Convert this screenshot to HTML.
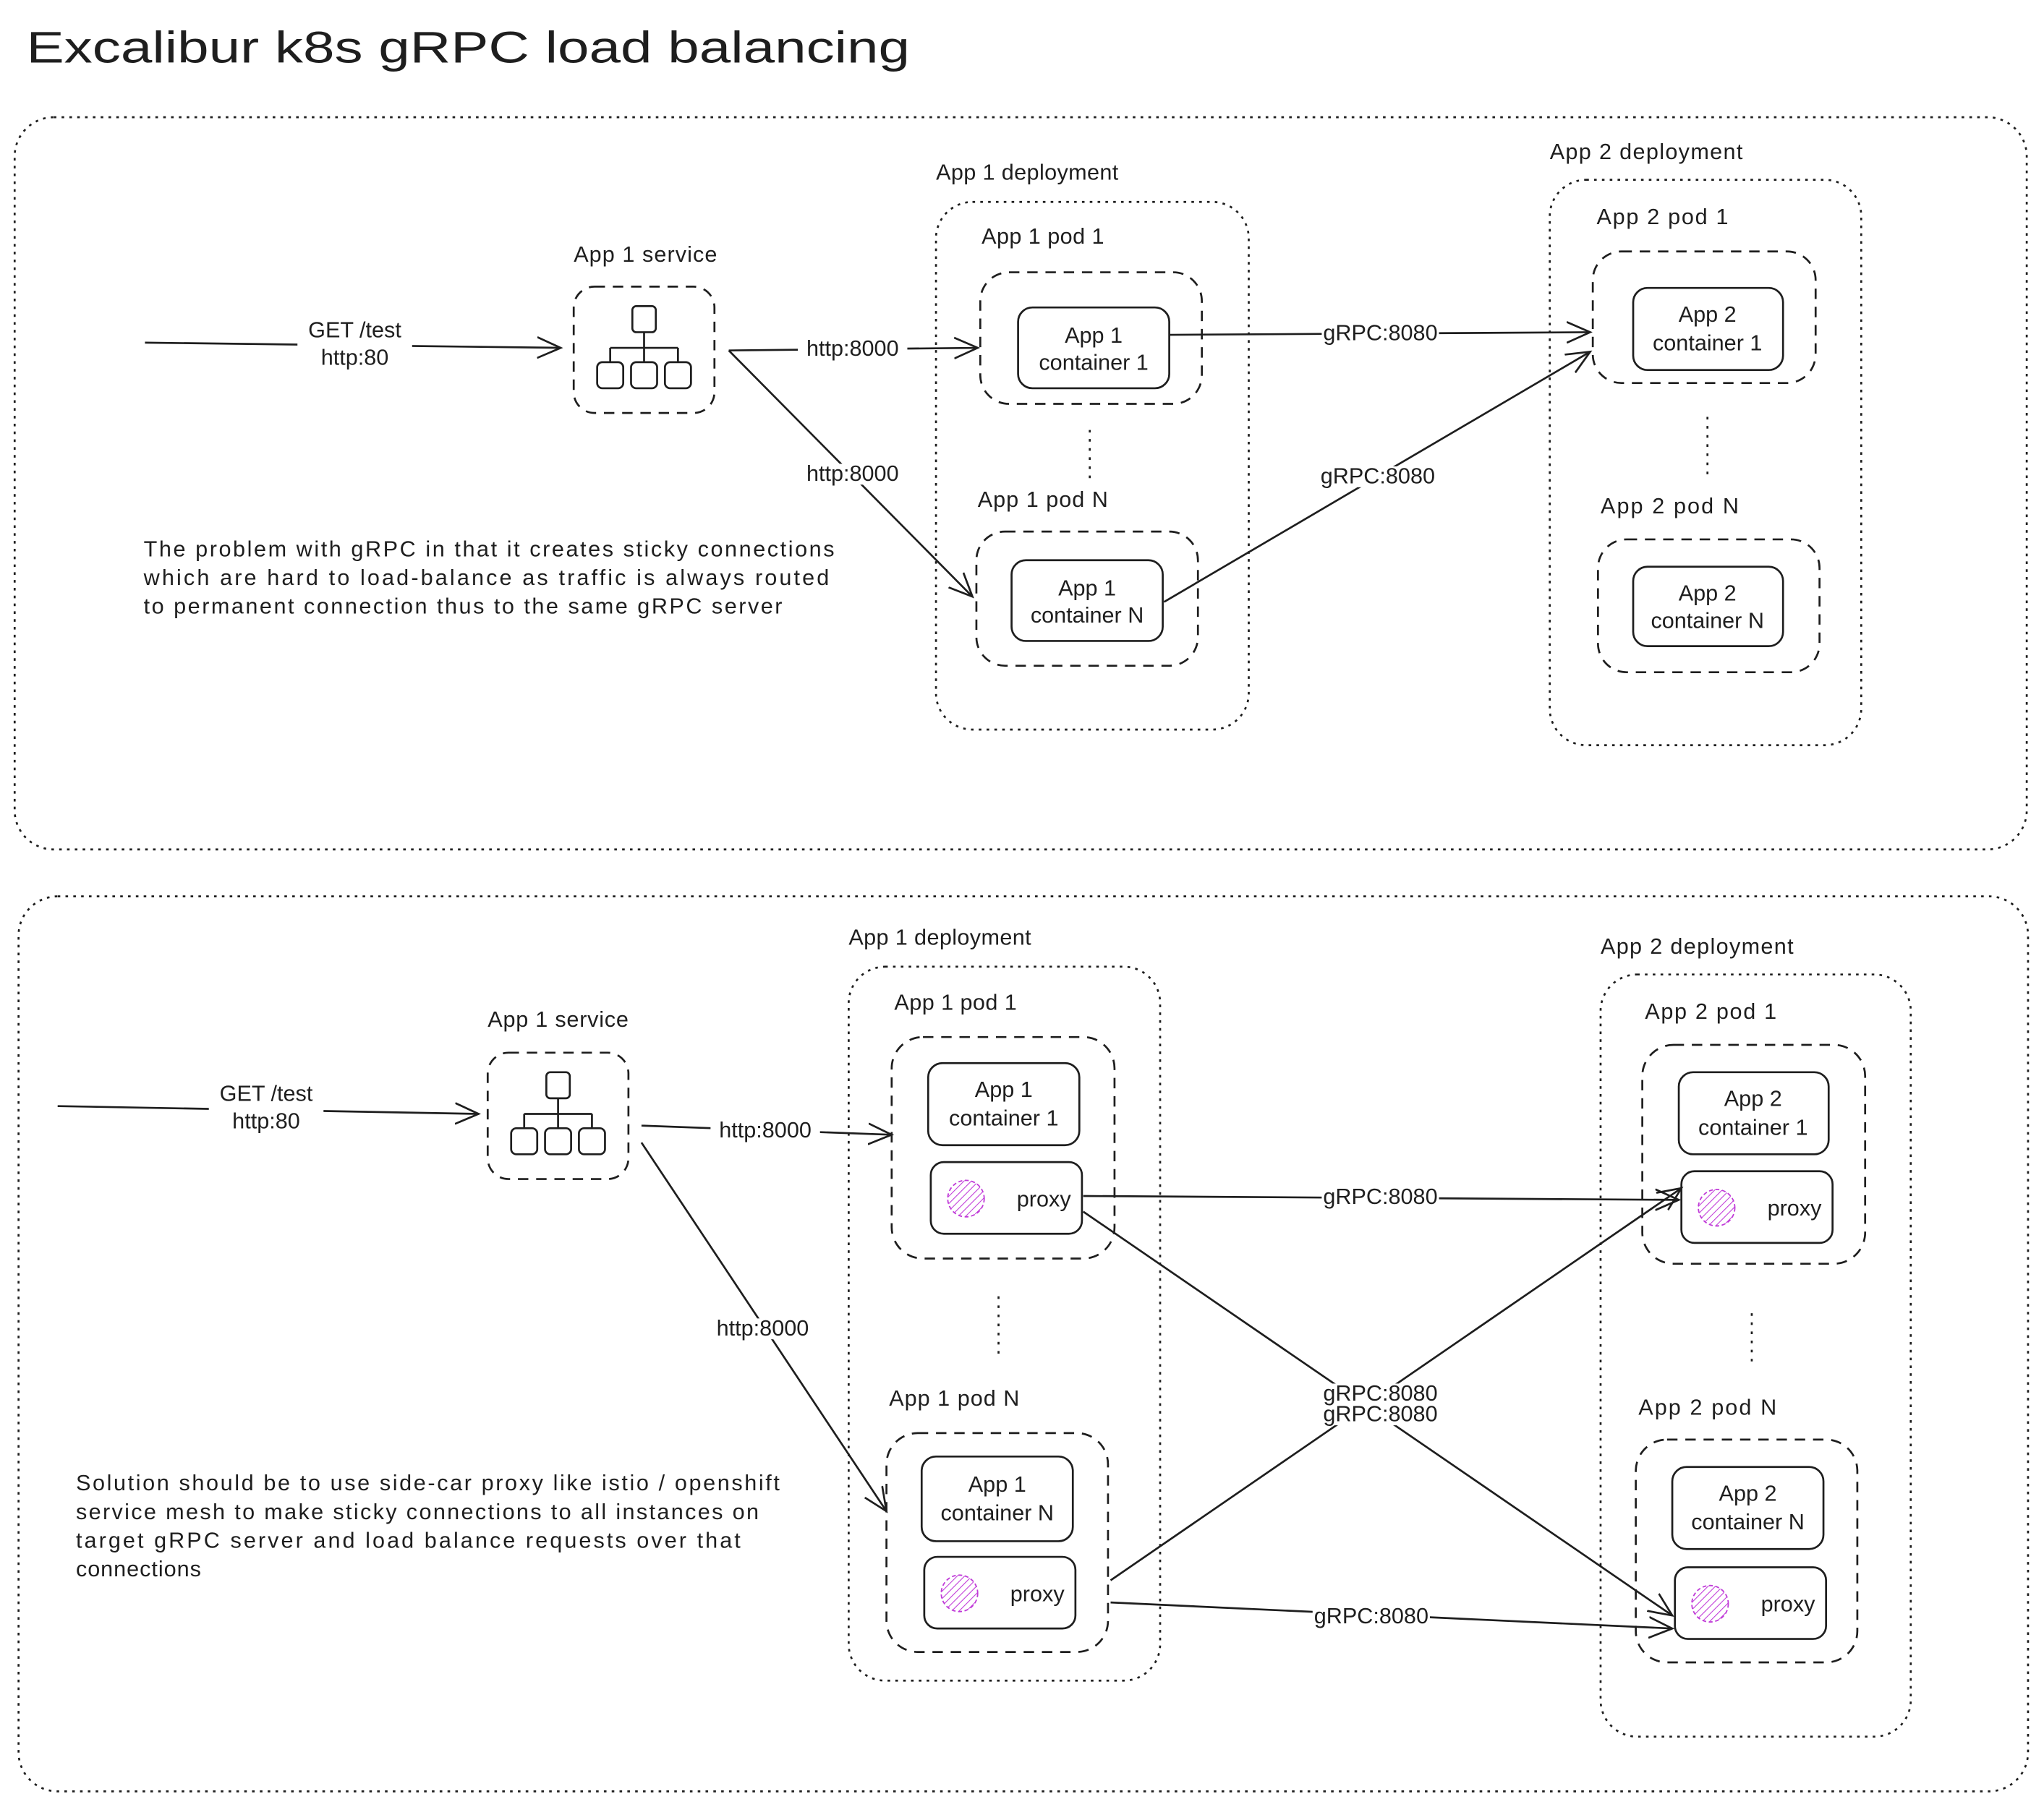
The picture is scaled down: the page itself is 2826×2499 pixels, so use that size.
<!DOCTYPE html>
<html><head><meta charset="utf-8"><style>
html,body{margin:0;padding:0;background:#fff;}
svg{display:block;}
text{font-family:"Liberation Sans",sans-serif;fill:#1e1e1e;}
</style></head><body>
<svg width="2826" height="2499" viewBox="0 0 1568 1387" xmlns="http://www.w3.org/2000/svg">
<defs>
<marker id="a" viewBox="0 0 20 20" refX="18" refY="10" markerWidth="20" markerHeight="20" markerUnits="userSpaceOnUse" orient="auto">
<path d="M0,2 L18,10 L0,18" fill="none" stroke="#1e1e1e" stroke-width="1.5"/>
</marker>
<pattern id="h" width="4" height="4" patternUnits="userSpaceOnUse" patternTransform="rotate(45)">
<line x1="0" y1="0" x2="0" y2="4" stroke="#c03ad8" stroke-width="1.2"/>
</pattern>
<g id="svc">
<rect x="0" y="0" width="108" height="97" rx="16" fill="none" stroke="#1e1e1e" stroke-width="1.5" stroke-dasharray="8 6"/>
<rect x="45" y="15" width="18" height="20" rx="3" fill="none" stroke="#1e1e1e" stroke-width="1.5"/>
<path d="M54,35 V47 M28,47 H80 M28,47 V58 M54,47 V58 M80,47 V58" stroke="#1e1e1e" stroke-width="1.5" fill="none"/>
<rect x="18" y="58" width="20" height="20" rx="4" fill="none" stroke="#1e1e1e" stroke-width="1.5"/>
<rect x="44" y="58" width="20" height="20" rx="4" fill="none" stroke="#1e1e1e" stroke-width="1.5"/>
<rect x="70" y="58" width="20" height="20" rx="4" fill="none" stroke="#1e1e1e" stroke-width="1.5"/>
</g>
<g id="prx">
<rect x="0" y="0" width="116" height="55" rx="10" fill="none" stroke="#1e1e1e" stroke-width="1.5"/>
<circle cx="27" cy="28" r="14" fill="url(#h)" stroke="#c03ad8" stroke-width="1" stroke-dasharray="3 2"/>
<text x="66" y="34" font-size="17">proxy</text>
</g>
</defs>
<g fill="none" stroke="#1e1e1e" stroke-width="1.5">
<rect x="11" y="90" width="1544" height="562" rx="30" stroke-dasharray="2 4"/>
<rect x="14" y="688" width="1542" height="687" rx="30" stroke-dasharray="2 4"/>
<rect x="718" y="155" width="240" height="405" rx="28" stroke-dasharray="2 4"/>
<rect x="1189" y="138" width="239" height="434" rx="28" stroke-dasharray="2 4"/>
<rect x="752" y="209" width="170" height="101" rx="22" stroke-dasharray="8 6"/>
<rect x="749" y="408" width="170" height="103" rx="22" stroke-dasharray="8 6"/>
<rect x="1222" y="193" width="171" height="101" rx="22" stroke-dasharray="8 6"/>
<rect x="1226" y="414" width="170" height="102" rx="22" stroke-dasharray="8 6"/>
<rect x="781" y="236" width="116" height="62" rx="11"/>
<rect x="776" y="430" width="116" height="62" rx="11"/>
<rect x="1253" y="221" width="115" height="63" rx="11"/>
<rect x="1253" y="435" width="115" height="61" rx="11"/>
<line x1="836" y1="330" x2="836" y2="370" stroke-dasharray="2 5"/>
<line x1="1310" y1="320" x2="1310" y2="365" stroke-dasharray="2 5"/>
<rect x="651" y="742" width="239" height="548" rx="28" stroke-dasharray="2 4"/>
<rect x="1228" y="748" width="238" height="585" rx="28" stroke-dasharray="2 4"/>
<rect x="684" y="796" width="171" height="170" rx="24" stroke-dasharray="8 6"/>
<rect x="680" y="1100" width="170" height="168" rx="24" stroke-dasharray="8 6"/>
<rect x="1260" y="802" width="171" height="168" rx="24" stroke-dasharray="8 6"/>
<rect x="1255" y="1105" width="170" height="171" rx="24" stroke-dasharray="8 6"/>
<rect x="712" y="816" width="116" height="63" rx="11"/>
<rect x="707" y="1118" width="116" height="65" rx="11"/>
<rect x="1288" y="823" width="115" height="63" rx="11"/>
<rect x="1283" y="1126" width="116" height="63" rx="11"/>
<line x1="766" y1="995" x2="766" y2="1040" stroke-dasharray="2 5"/>
<line x1="1344" y1="1008" x2="1344" y2="1050" stroke-dasharray="2 5"/>
<line x1="111" y1="263" x2="430" y2="267" marker-end="url(#a)"/>
<line x1="559" y1="269" x2="750" y2="267" marker-end="url(#a)"/>
<line x1="559" y1="269" x2="746" y2="458" marker-end="url(#a)"/>
<line x1="897" y1="257" x2="1220" y2="255" marker-end="url(#a)"/>
<line x1="893" y1="462" x2="1220" y2="270" marker-end="url(#a)"/>
<line x1="44" y1="849" x2="367" y2="855" marker-end="url(#a)"/>
<line x1="492" y1="864" x2="684" y2="871" marker-end="url(#a)"/>
<line x1="492" y1="877" x2="680" y2="1160" marker-end="url(#a)"/>
<line x1="831" y1="918" x2="1288" y2="921" marker-end="url(#a)"/>
<line x1="831" y1="930" x2="1283" y2="1240" marker-end="url(#a)"/>
<line x1="852" y1="1213" x2="1290" y2="912" marker-end="url(#a)"/>
<line x1="852" y1="1230" x2="1283" y2="1250" marker-end="url(#a)"/>
</g>
<use href="#svc" x="440" y="220"/>
<use href="#svc" x="374" y="808"/>
<use href="#prx" x="714" y="892"/>
<use href="#prx" x="709" y="1195"/>
<use href="#prx" x="1290" y="899"/>
<use href="#prx" x="1285" y="1203"/>
<text x="20" y="48" font-size="34" textLength="678" lengthAdjust="spacingAndGlyphs">Excalibur k8s gRPC load balancing</text>
<g font-size="17">
<text x="440" y="201" textLength="110">App 1 service</text>
<text x="718" y="138" textLength="140">App 1 deployment</text>
<text x="753" y="187" textLength="94">App 1 pod 1</text>
<text x="750" y="389" textLength="100">App 1 pod N</text>
<text x="1189" y="122" textLength="148">App 2 deployment</text>
<text x="1225" y="172" textLength="101">App 2 pod 1</text>
<text x="1228" y="394" textLength="106">App 2 pod N</text>
<text x="374" y="788" textLength="108">App 1 service</text>
<text x="651" y="725" textLength="140">App 1 deployment</text>
<text x="686" y="775" textLength="94">App 1 pod 1</text>
<text x="682" y="1079" textLength="100">App 1 pod N</text>
<text x="1228" y="732" textLength="148">App 2 deployment</text>
<text x="1262" y="782" textLength="101">App 2 pod 1</text>
<text x="1257" y="1086" textLength="106">App 2 pod N</text>
</g>
<g font-size="17" text-anchor="middle">
<text x="839" y="263">App 1</text><text x="839" y="284">container 1</text>
<text x="834" y="457">App 1</text><text x="834" y="478">container N</text>
<text x="1310" y="247">App 2</text><text x="1310" y="269">container 1</text>
<text x="1310" y="461">App 2</text><text x="1310" y="482">container N</text>
<text x="770" y="842">App 1</text><text x="770" y="864">container 1</text>
<text x="765" y="1145">App 1</text><text x="765" y="1167">container N</text>
<text x="1345" y="849">App 2</text><text x="1345" y="871">container 1</text>
<text x="1341" y="1152">App 2</text><text x="1341" y="1174">container N</text>
</g>
<g font-size="17" text-anchor="middle">
<rect x="228" y="244" width="88" height="38" fill="#fff"/>
<text x="272" y="259">GET /test</text><text x="272" y="280">http:80</text>
<rect x="612" y="260" width="84" height="16" fill="#fff"/>
<text x="654" y="273">http:8000</text>
<rect x="612" y="356" width="84" height="16" fill="#fff"/>
<text x="654" y="369">http:8000</text>
<rect x="1014" y="248" width="90" height="16" fill="#fff"/>
<text x="1059" y="261">gRPC:8080</text>
<rect x="1012" y="358" width="90" height="16" fill="#fff"/>
<text x="1057" y="371">gRPC:8080</text>
<rect x="160" y="830" width="88" height="38" fill="#fff"/>
<text x="204" y="845">GET /test</text><text x="204" y="866">http:80</text>
<rect x="545" y="860" width="84" height="16" fill="#fff"/>
<text x="587" y="873">http:8000</text>
<rect x="543" y="1012" width="84" height="16" fill="#fff"/>
<text x="585" y="1025">http:8000</text>
<rect x="1014" y="911" width="90" height="16" fill="#fff"/>
<text x="1059" y="924">gRPC:8080</text>
<rect x="1014" y="1062" width="90" height="32" fill="#fff"/>
<text x="1059" y="1075">gRPC:8080</text><text x="1059" y="1091">gRPC:8080</text>
<rect x="1007" y="1233" width="90" height="16" fill="#fff"/>
<text x="1052" y="1246">gRPC:8080</text>
</g>
<g font-size="17">
<text x="110" y="427" textLength="530">The problem with gRPC in that it creates sticky connections</text>
<text x="110" y="449" textLength="526">which are hard to load-balance as traffic is always routed</text>
<text x="110" y="471" textLength="490">to permanent connection thus to the same gRPC server</text>
<text x="58" y="1144" textLength="540">Solution should be to use side-car proxy like istio / openshift</text>
<text x="58" y="1166" textLength="524">service mesh to make sticky connections to all instances on</text>
<text x="58" y="1188" textLength="510">target gRPC server and load balance requests over that</text>
<text x="58" y="1210" textLength="96">connections</text>
</g>
</svg>
</body></html>
